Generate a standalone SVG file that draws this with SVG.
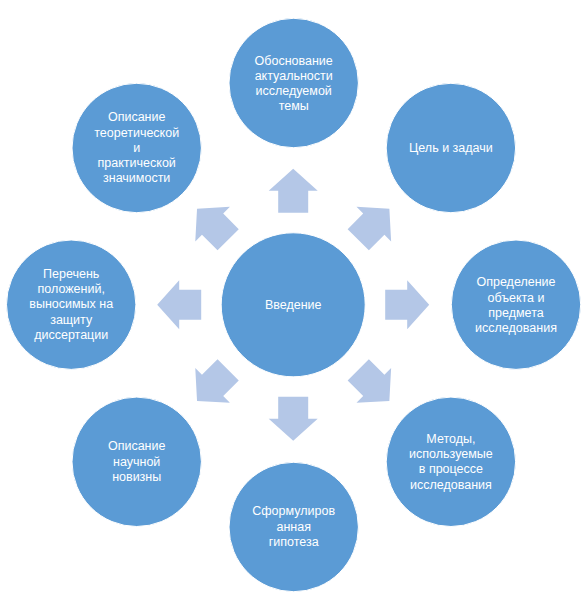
<svg xmlns="http://www.w3.org/2000/svg" width="587" height="610" viewBox="0 0 587 610">
<defs>
<style>
.n{fill:#5B9BD5;stroke:#ffffff;stroke-width:1}
.a{fill:#B4C7E7}
text{font-family:"Liberation Sans",Arial,sans-serif;font-size:12.5px;fill:#ffffff;text-anchor:middle}
</style>
<polygon id="arr" class="a" points="92,-15 114,-15 114,-24.5 136,0 114,24.5 114,15 92,15"/>
</defs>
<rect width="587" height="610" fill="#ffffff"/>
<g id="connectors">
<use href="#arr" transform="translate(293.2,304.8) rotate(-90)"/>
<use href="#arr" transform="translate(293.2,304.8) rotate(-45)"/>
<use href="#arr" transform="translate(293.2,304.8) rotate(0)"/>
<use href="#arr" transform="translate(293.2,304.8) rotate(45)"/>
<use href="#arr" transform="translate(293.2,304.8) rotate(90)"/>
<use href="#arr" transform="translate(293.2,304.8) rotate(135)"/>
<use href="#arr" transform="translate(293.2,304.8) rotate(180)"/>
<use href="#arr" transform="translate(293.2,304.8) rotate(225)"/>
</g>
<g id="center">
<circle class="n" cx="293.2" cy="304.8" r="72"/>
<text x="293.2" y="309.3">Введение</text>
</g>
<g id="top">
<circle class="n" cx="293.7" cy="83" r="64.7"/>
<text x="293.7" y="64.5">Обоснование</text>
<text x="293.7" y="79.8">актуальности</text>
<text x="293.7" y="95.1">исследуемой</text>
<text x="293.7" y="110.4">темы</text>
</g>
<g id="topright">
<circle class="n" cx="450.9" cy="148" r="64.7"/>
<text x="450.9" y="152.3">Цель и задачи</text>
</g>
<g id="right">
<circle class="n" cx="516" cy="304.7" r="64.7"/>
<text x="516" y="286.2">Определение</text>
<text x="516" y="301.5">объекта и</text>
<text x="516" y="316.8">предмета</text>
<text x="516" y="332.1">исследования</text>
</g>
<g id="bottomright">
<circle class="n" cx="450.9" cy="461.8" r="64.7"/>
<text x="450.9" y="442.8">Методы,</text>
<text x="450.9" y="458.1">используемые</text>
<text x="450.9" y="473.4">в процессе</text>
<text x="450.9" y="488.7">исследования</text>
</g>
<g id="bottom">
<circle class="n" cx="293.7" cy="527" r="64.7"/>
<text x="293.7" y="515.2">Сформулиров</text>
<text x="293.7" y="530.5">анная</text>
<text x="293.7" y="545.8">гипотеза</text>
</g>
<g id="bottomleft">
<circle class="n" cx="136.7" cy="461.8" r="64.7"/>
<text x="136.7" y="450.2">Описание</text>
<text x="136.7" y="465.5">научной</text>
<text x="136.7" y="480.8">новизны</text>
</g>
<g id="left">
<circle class="n" cx="71.2" cy="304.7" r="64.7"/>
<text x="71.2" y="277.8">Перечень</text>
<text x="71.2" y="293.1">положений,</text>
<text x="71.2" y="308.4">выносимых на</text>
<text x="71.2" y="323.7">защиту</text>
<text x="71.2" y="339">диссертации</text>
</g>
<g id="topleft">
<circle class="n" cx="136.7" cy="148" r="64.7"/>
<text x="136.7" y="121.2">Описание</text>
<text x="136.7" y="136.5">теоретической</text>
<text x="136.7" y="151.8">и</text>
<text x="136.7" y="167.1">практической</text>
<text x="136.7" y="182.4">значимости</text>
</g>
</svg>
